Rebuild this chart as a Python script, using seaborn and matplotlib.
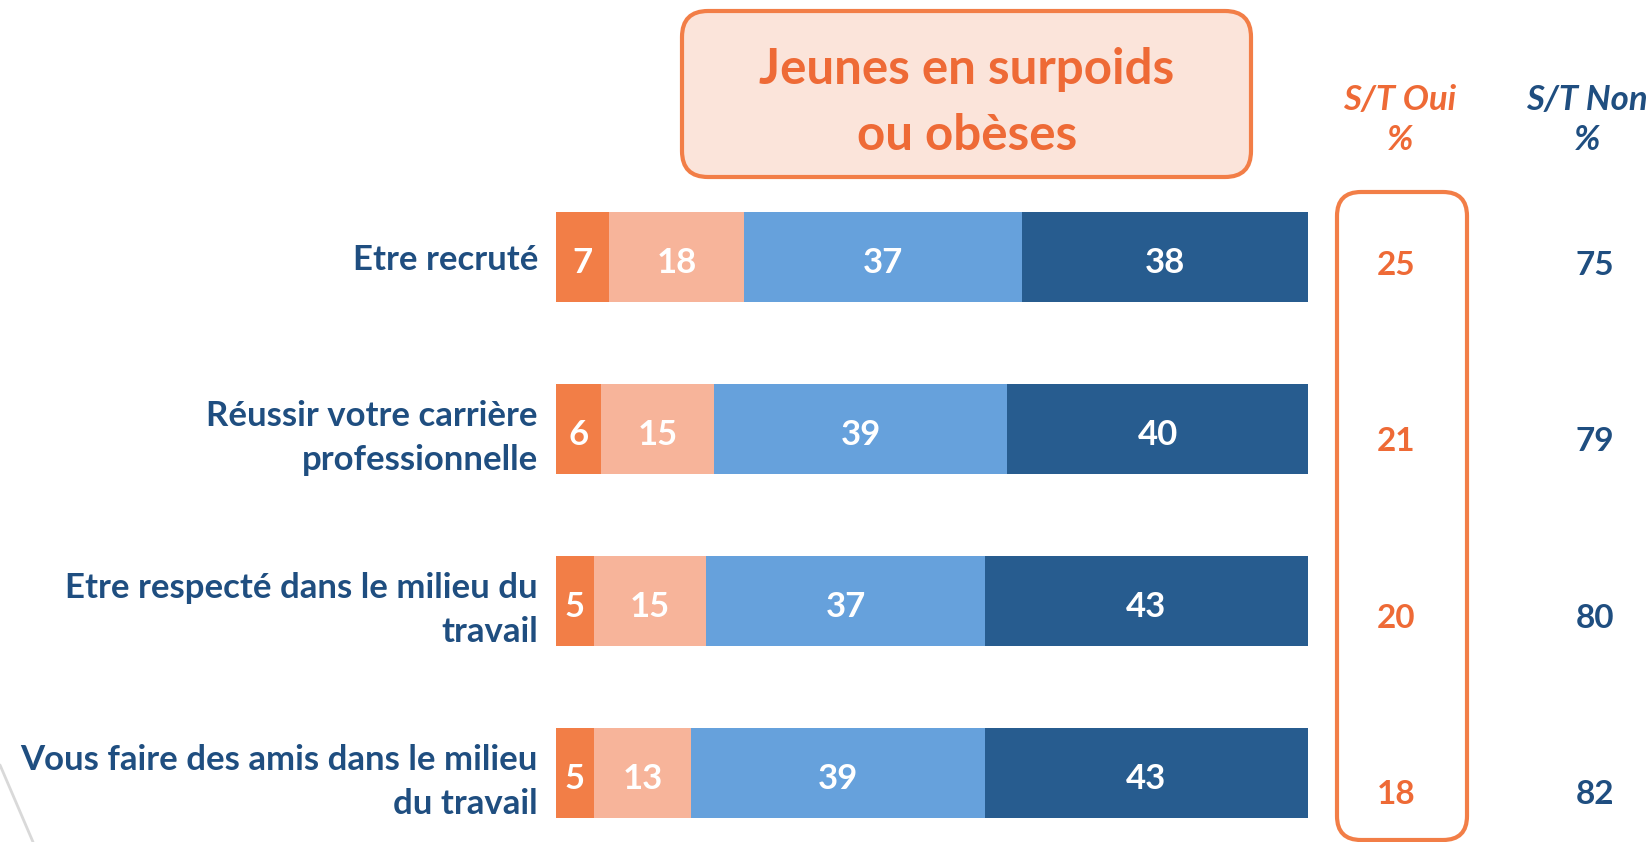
import numpy as np
import pandas as pd
import matplotlib.pyplot as plt
import seaborn as sns
from matplotlib.patches import FancyBboxPatch
from matplotlib.lines import Line2D
from matplotlib.transforms import IdentityTransform

# data
categories = [
    "Etre recruté",
    "Réussir votre carrière\nprofessionnelle",
    "Etre respecté dans le milieu du\ntravail",
    "Vous faire des amis dans le milieu\ndu travail",
]
oui_tout_a_fait = [7, 6, 5, 5]
oui_plutot = [18, 15, 15, 13]
non_plutot = [37, 39, 37, 39]
non_pas_du_tout = [38, 40, 43, 43]
st_oui = [25, 21, 20, 18]
st_non = [75, 79, 80, 82]

series = [oui_tout_a_fait, oui_plutot, non_plutot, non_pas_du_tout]
colors = ["#F27E47", "#F7B49A", "#66A1DC", "#275C8F"]

ORANGE = "#EE6A36"
NAVY = "#1F4E80"

sns.set_theme(style="white")
plt.rcParams['font.family'] = ['Lato', 'DejaVu Sans']

df = pd.DataFrame({"cat": categories})
for i, s in enumerate(series):
    df[f"s{i}"] = s
cum = np.cumsum(np.array(series), axis=0)

W, H = 1651, 842
fig = plt.figure(figsize=(W / 100, H / 100), dpi=100)
ax = fig.add_axes([556 / W, 0, 752 / W, 650 / H])

# stacked bars: draw cumulative totals from the largest down
for i in range(len(series) - 1, -1, -1):
    sns.barplot(x=cum[i], y=df["cat"], orient="h", color=colors[i],
                saturation=1, width=0.525, linewidth=0, ax=ax)

# labels inside segments
for i, s in enumerate(series):
    left = cum[i] - np.array(s)
    for j, v in enumerate(s):
        ax.text(left[j] + v / 2, j + 0.02, str(v), ha="center", va="center_baseline",
                color="white", fontsize=25, fontweight="bold")

ax.set_xlim(0, 100)
ax.set_ylim(3.401, -0.378)
ax.set_xlabel("")
ax.set_ylabel("")
ax.set_xticks([])
ax.tick_params(axis="y", length=0, pad=13, labelsize=25, labelcolor=NAVY)
for t in ax.get_yticklabels():
    t.set_fontweight("bold")
    t.set_linespacing(1.45)
sns.despine(ax=ax, left=True, bottom=True)

# S/T columns
for j in range(len(categories)):
    yy = j + 0.035 + 0.025 * j
    ax.text(111.7, yy, str(st_oui[j]), ha="center", va="center_baseline", color=ORANGE,
            fontsize=24, fontweight="bold", clip_on=False)
    ax.text(138.2, yy, str(st_non[j]), ha="center", va="center_baseline", color=NAVY,
            fontsize=24, fontweight="bold", clip_on=False)

# boxes (pixel coordinates, origin bottom-left)
title_box = FancyBboxPatch((682, H - 177), 1251 - 682, 177 - 11,
                           boxstyle="round,pad=0,rounding_size=26",
                           facecolor="#FBE4DA", edgecolor="#F27E47", linewidth=3,
                           transform=IdentityTransform())
fig.add_artist(title_box)
oui_box = FancyBboxPatch((1337, H - 840), 1467 - 1337, 840 - 192,
                         boxstyle="round,pad=0,rounding_size=24",
                         facecolor="none", edgecolor="#F27E47", linewidth=3,
                         transform=IdentityTransform())
fig.add_artist(oui_box)

fig.text(967 / W, 1 - 69 / H, "Jeunes en surpoids", ha="center", va="center",
         color=ORANGE, fontsize=35.5, fontweight="bold")
fig.text(967 / W, 1 - 135 / H, "ou obèses", ha="center", va="center",
         color=ORANGE, fontsize=35.5, fontweight="bold")

fig.text(1400 / W, 1 - 120 / H, "S/T Oui\n%", ha="center", va="center",
         color=ORANGE, fontsize=25, fontweight="bold", style="italic",
         linespacing=1.3)
fig.text(1587 / W, 1 - 120 / H, "S/T Non\n%", ha="center", va="center",
         color=NAVY, fontsize=25, fontweight="bold", style="italic",
         linespacing=1.3)

# faint decorative line bottom-left
fig.add_artist(Line2D([0, 33 / W], [1 - 765 / H, 0], color="#D9D9D9", lw=2,
                      transform=fig.transFigure))

fig.savefig("out.png", dpi=100)
